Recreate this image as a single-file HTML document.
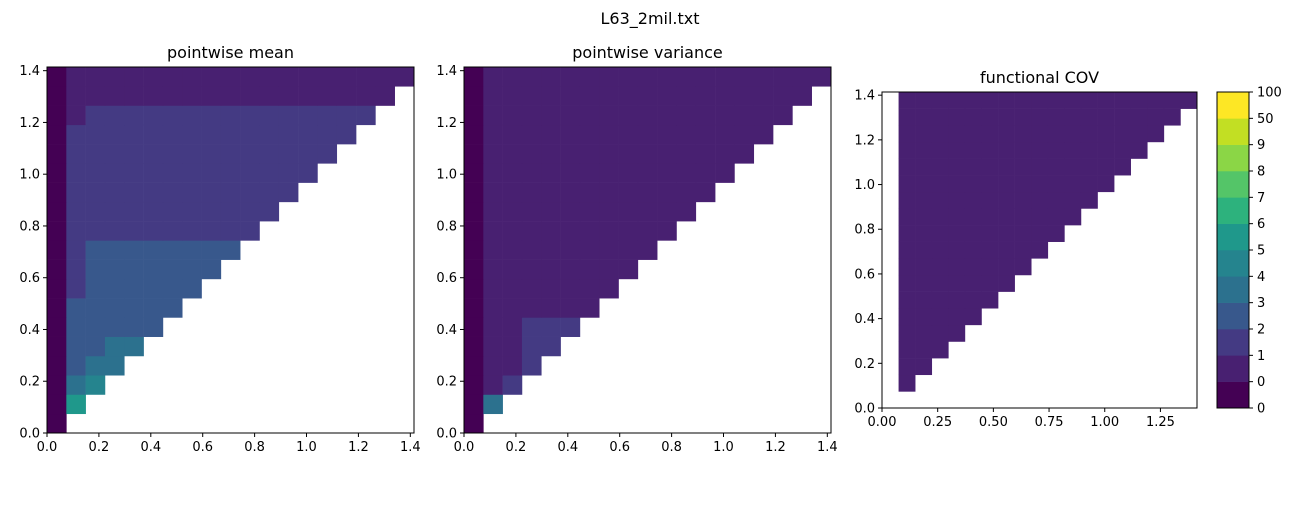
<!DOCTYPE html>
<html><head><meta charset="utf-8"><style>
body{margin:0;background:#fff;}
svg text{font-family:"DejaVu Sans","Liberation Sans",sans-serif;fill:#000;}
</style></head><body>
<svg id="fig" width="1300" height="500" xmlns="http://www.w3.org/2000/svg">
<text x="650" y="24" font-size="16" text-anchor="middle">L63_2mil.txt</text>
</svg>
<script>
const levelColors = ["#440154","#482071","#443a83","#38588c","#2c718e","#25848e","#1f988b","#2db27d","#54c568","#8bd646","#c2df23","#fde725"];
const levelLabels = ["0","0","1","2","3","4","5","6","7","8","9","50","100"];
const nCells = 19;
const dataMax = 1.4142;
// rows bottom->top, each entry level index per column, -1 = empty
const meanRows = [
 [0],
 [0,6],
 [0,4,5],
 [0,3,4,4],
 [0,3,3,4,4],
 [0,3,3,3,3,3],
 [0,3,3,3,3,3,3],
 [0,2,3,3,3,3,3,3],
 [0,2,3,3,3,3,3,3,3],
 [0,2,3,3,3,3,3,3,3,3],
 [0,2,2,2,2,2,2,2,2,2,2],
 [0,2,2,2,2,2,2,2,2,2,2,2],
 [0,2,2,2,2,2,2,2,2,2,2,2,2],
 [0,2,2,2,2,2,2,2,2,2,2,2,2,2],
 [0,2,2,2,2,2,2,2,2,2,2,2,2,2,2],
 [0,2,2,2,2,2,2,2,2,2,2,2,2,2,2,2],
 [0,1,2,2,2,2,2,2,2,2,2,2,2,2,2,2,2],
 [0,1,1,1,1,1,1,1,1,1,1,1,1,1,1,1,1,1],
 [0,1,1,1,1,1,1,1,1,1,1,1,1,1,1,1,1,1,1]
];
const varRows = [
 [0],
 [0,4],
 [0,1,2],
 [0,1,1,2],
 [0,1,1,2,2],
 [0,1,1,2,2,2]
];
for (let r = 6; r < 19; r++) { const row=[0]; for (let c=1;c<=r;c++) row.push(1); varRows.push(row); }
const covRows = [[]];
for (let r = 1; r < 19; r++) { const row=[-1]; for (let c=1;c<=r;c++) row.push(1); covRows.push(row); }
const ticks12 = [0,0.2,0.4,0.6,0.8,1.0,1.2,1.4];
const ticks3x = [0,0.25,0.5,0.75,1.0,1.25];

const NS="http://www.w3.org/2000/svg";
const svg=document.getElementById('fig');
function mk(tag,attrs,parent){const e=document.createElementNS(NS,tag);for(const k in attrs)e.setAttribute(k,attrs[k]);(parent||svg).appendChild(e);return e;}

function panel(name,title,rows,x0,y0,w,h,xt,xdec){
  const g=mk('g',{});
  
  
  const sx=v=>x0+v/dataMax*w, sy=v=>y0+h-v/dataMax*h;
  const cs=dataMax/nCells;
  rows.forEach((row,r)=>row.forEach((lv,c)=>{
    if(lv<0)return;
    const rc=mk('rect',{x:sx(c*cs),y:sy((r+1)*cs),width:sx((c+1)*cs)-sx(c*cs)+0.3,height:sy(r*cs)-sy((r+1)*cs)+0.3,fill:levelColors[lv]},g);
    
    
  }));
  const fr=mk('rect',{x:x0,y:y0,width:w,height:h,fill:'none',stroke:'#000','stroke-width':1},g);
  
  
  const t=mk('text',{x:x0+w/2,y:y0-9,'font-size':16,'text-anchor':'middle'},g);t.textContent=title;
  
  
  xt.forEach(v=>{const x=sx(v);mk('line',{x1:x,x2:x,y1:y0+h,y2:y0+h+4,stroke:'#000'},g);
    const tx=mk('text',{x:x,y:y0+h+18,'font-size':13,'text-anchor':'middle'},g);tx.textContent=v.toFixed(xdec);
    
    });
  ticks12.forEach(v=>{const y=sy(v);mk('line',{x1:x0-4,x2:x0,y1:y,y2:y,stroke:'#000'},g);
    const ty=mk('text',{x:x0-7,y:y+4.5,'font-size':13,'text-anchor':'end'},g);ty.textContent=v.toFixed(1);
    
    });
}
panel('pointwise-mean-panel','pointwise mean',meanRows,47,67,367,366,ticks12,1);
panel('pointwise-variance-panel','pointwise variance',varRows,464,67,367,366,ticks12,1);
panel('functional-cov-panel','functional COV',covRows,882,92,315,316,ticks3x,2);

// colorbar
const cb=mk('g',{});


const cbx=1217,cby=92,cbw=32,cbh=316,n=levelColors.length;
levelColors.forEach((col,i)=>{mk('rect',{x:cbx,y:cby+cbh-(i+1)*cbh/n,width:cbw,height:cbh/n+0.3,fill:col},cb);});
mk('rect',{x:cbx,y:cby,width:cbw,height:cbh,fill:'none',stroke:'#000'},cb);
levelLabels.forEach((l,i)=>{const y=cby+cbh-i*cbh/n;mk('line',{x1:cbx+cbw,x2:cbx+cbw+4,y1:y,y2:y,stroke:'#000'},cb);
  const t=mk('text',{x:cbx+cbw+8,y:y+4.5,'font-size':13},cb);t.textContent=l;
  
  });
</script>
</body></html>
